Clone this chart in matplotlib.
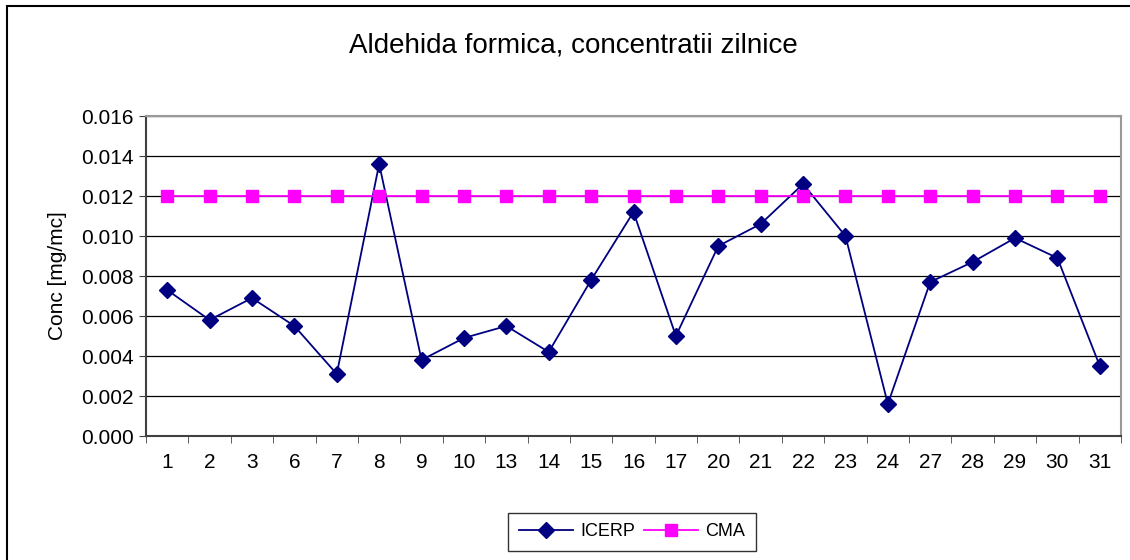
import matplotlib.pyplot as plt
from matplotlib.patches import Rectangle

plt.rcParams['font.family'] = ['Liberation Sans', 'DejaVu Sans']

days = ['1', '2', '3', '6', '7', '8', '9', '10', '13', '14', '15', '16',
        '17', '20', '21', '22', '23', '24', '27', '28', '29', '30', '31']
icerp = [0.0073, 0.0058, 0.0069, 0.0055, 0.0031, 0.0136, 0.0038, 0.0049,
         0.0055, 0.0042, 0.0078, 0.0112, 0.0050, 0.0095, 0.0106, 0.0126,
         0.0100, 0.0016, 0.0077, 0.0087, 0.0099, 0.0089, 0.0035]
cma = [0.012] * len(days)

fig = plt.figure(figsize=(11.3, 5.6), dpi=100)
ax = fig.add_axes([146 / 1130, 1 - 436 / 560, 975 / 1130, 320 / 560])

# outer chart frame (clipped at right/bottom like the original)
fig.patches.append(Rectangle((7 / 1130, -0.05), 1.2, 1 - 6 / 560 + 0.05,
                             transform=fig.transFigure, fill=False,
                             edgecolor='black', linewidth=1.5))

x = list(range(len(days)))
ax.plot(x, icerp, color='#000080', marker='D', markersize=8,
        linewidth=1.3, label='ICERP')
ax.plot(x, cma, color='#FF00FF', marker='s', markersize=8,
        linewidth=1.3, label='CMA')

ax.set_xlim(-0.5, len(days) - 0.5)
ax.set_ylim(0, 0.016)
ax.set_yticks([i * 0.002 for i in range(9)])
ax.set_yticklabels([f'{i * 0.002:.3f}' for i in range(9)])
ax.set_xticks(x)
ax.set_xticklabels(days)
ax.set_xticks([i - 0.5 for i in range(len(days) + 1)], minor=True)
ax.tick_params(axis='x', which='major', length=0, pad=12, labelsize=15)
ax.tick_params(axis='x', which='minor', length=5, color='#404040')
ax.tick_params(axis='y', length=5, labelsize=15, color='#404040', pad=4)
ax.yaxis.grid(True, color='black', linewidth=0.9)
ax.set_axisbelow(True)

for side in ['top', 'right']:
    ax.spines[side].set_color('#999999')
    ax.spines[side].set_linewidth(1.5)
for side in ['left', 'bottom']:
    ax.spines[side].set_color('#404040')
    ax.spines[side].set_linewidth(1.5)

ax.set_ylabel('Conc [mg/mc]', fontsize=15, labelpad=10)
fig.text(573 / 1130, 1 - 45 / 560, 'Aldehida formica, concentratii zilnice',
         ha='center', va='center', fontsize=20)

leg = fig.legend(loc='center', bbox_to_anchor=(632 / 1130, 1 - 532 / 560),
                 ncol=2, frameon=True, fancybox=False, fontsize=13,
                 handlelength=3, columnspacing=0.5, handletextpad=0.4,
                 borderpad=0.6, borderaxespad=0)
leg.get_frame().set_edgecolor('black')
leg.get_frame().set_linewidth(1)

fig.savefig('out.png', dpi=100)
